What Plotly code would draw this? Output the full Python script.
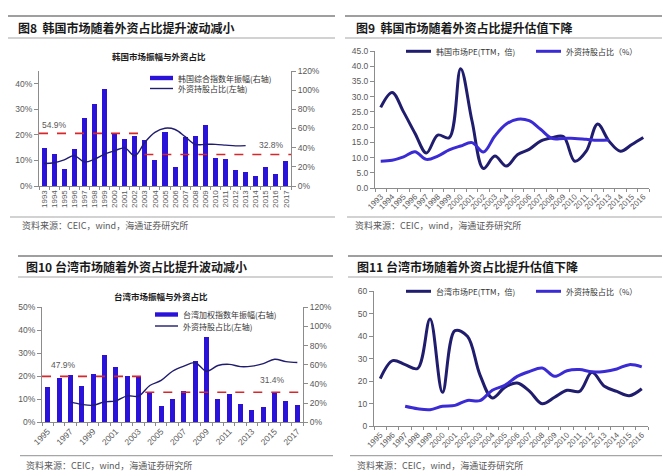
import plotly.graph_objects as go

# ---------------- data ----------------
kr_years = list(range(1993, 2018))
kr_amp = [40.0, 33.3, 18.0, 38.4, 71.2, 86.0, 100.8, 55.5, 49.3, 52.0, 48.5, 27.5, 56.8,
          19.7, 51.2, 52.0, 64.0, 29.3, 28.5, 16.3, 14.7, 10.4, 19.7, 12.8, 26.4]
kr_hold_years = list(range(1993, 2014))
kr_hold = [8.8, 9.1, 10.2, 11.9, 9.4, 10.5, 12.5, 13.8, 14.9, 11.8, 17.1, 21.0, 22.6,
           22.1, 19.3, 16.3, 16.3, 16.3, 16.0, 15.7, 15.8]
kr_pe_years = list(range(1993, 2017))
kr_pe = [26.5, 31.4, 25.0, 18.0, 11.5, 17.4, 16.5, 39.2, 22.0, 6.4, 10.5, 7.2, 11.0,
         12.7, 15.4, 16.5, 16.9, 8.8, 12.1, 21.0, 15.4, 12.1, 14.3, 16.6]
kr_avg_periods = [(1992.5, 2002.65), (2002.95, 2017.5)]
kr_avg_values = [54.9, 32.8]
kr_avg_labels = ["54.9%", "32.8%"]

tw_years = list(range(1995, 2018))
tw_amp = [36.7, 45.8, 49.4, 37.7, 50.6, 69.8, 57.6, 48.0, 47.3, 31.7, 16.3, 23.8,
          32.4, 63.6, 88.8, 24.2, 28.8, 18.7, 13.0, 15.6, 30.2, 21.4, 17.3]
tw_hold_years = list(range(1997, 2018))
tw_hold = [8.9, 7.8, 7.4, 8.9, 9.3, 11.5, 11.4, 16.0, 18.2, 22.2, 24.4, 25.9, 22.2,
           24.7, 25.2, 24.2, 24.4, 25.5, 27.4, 26.4, 26.0]
tw_pe_years = list(range(1995, 2017))
tw_pe = [21.2, 29.2, 27.4, 25.7, 47.7, 15.1, 42.5, 40.0, 23.0, 12.6, 17.3, 19.2,
         15.5, 10.0, 12.9, 16.0, 15.5, 24.0, 17.8, 15.5, 13.6, 16.7]
tw_avg_periods = [(1994.5, 2003.6), (2003.6, 2017.5)]
tw_avg_values = [47.9, 31.4]
tw_avg_labels = ["47.9%", "31.4%"]

titles = ["图8  韩国市场随着外资占比提升波动减小", "图9  韩国市场随着外资占比提升估值下降",
          "图10 台湾市场随着外资占比提升波动减小", "图11 台湾市场随着外资占比提升估值下降"]
subtitles = ["韩国市场振幅与外资占比", "台湾市场振幅与外资占比"]
source = "资料来源：CEIC，wind，海通证券研究所"

# ---------------- style ----------------
W, H = 670, 475
def fx(p): return p / W
def fy(p): return 1 - p / H

BAR = "#2B12D9"
NAVY = "#201C6E"
BLUE = "#3A2BD4"
RED = "#D8262B"
AX = "#8C8C8C"
TXT = "#595959"
FONT = "Liberation Sans, Arial, sans-serif"
CJK = "Noto Sans CJK SC, sans-serif"

fig = go.Figure()

# Panel 8
fig.add_trace(go.Bar(x=kr_years, y=kr_amp, marker_color=BAR, marker_line_width=0,
                     width=0.5, xaxis="x", yaxis="y"))
fig.add_trace(go.Scatter(x=kr_hold_years, y=kr_hold, mode="lines",
                         line=dict(color=NAVY, width=1.4, shape="spline"), xaxis="x", yaxis="y2"))
# Panel 9
fig.add_trace(go.Scatter(x=kr_pe_years, y=kr_pe, mode="lines",
                         line=dict(color=NAVY, width=3, shape="spline"), xaxis="x2", yaxis="y3"))
fig.add_trace(go.Scatter(x=kr_hold_years, y=kr_hold, mode="lines",
                         line=dict(color=BLUE, width=3, shape="spline"), xaxis="x2", yaxis="y3"))
# Panel 10
fig.add_trace(go.Bar(x=tw_years, y=tw_amp, marker_color=BAR, marker_line_width=0,
                     width=0.44, xaxis="x3", yaxis="y4"))
fig.add_trace(go.Scatter(x=tw_hold_years, y=tw_hold, mode="lines",
                         line=dict(color=NAVY, width=1.4, shape="spline"), xaxis="x3", yaxis="y5"))
# Panel 11
fig.add_trace(go.Scatter(x=tw_pe_years, y=tw_pe, mode="lines",
                         line=dict(color=NAVY, width=3, shape="spline"), xaxis="x4", yaxis="y6"))
tw_hold11 = [(yr, v) for yr, v in zip(tw_hold_years, tw_hold) if yr <= 2016]
fig.add_trace(go.Scatter(x=[a for a, _ in tw_hold11], y=[b for _, b in tw_hold11], mode="lines",
                         line=dict(color=BLUE, width=3, shape="spline"), xaxis="x4", yaxis="y6"))

tick_font = dict(family=FONT, size=8.5, color=TXT)
common_ax = dict(showgrid=False, zeroline=False, showline=True, linecolor=AX, linewidth=1,
                 tickfont=tick_font, automargin=False, tickcolor=AX, fixedrange=True)

def xax(dom, rng, anchor, vals, angle):
    d = dict(common_ax)
    d.update(domain=[fx(dom[0]), fx(dom[1])], range=rng, anchor=anchor,
             tickmode="array", tickvals=vals, ticktext=[str(v) for v in vals],
             tickangle=angle, ticks="",
             minor=dict(ticks="outside", tick0=rng[0], dtick=1, ticklen=3, tickcolor=AX))
    d["tickfont"] = dict(family=FONT, size=8, color=TXT)
    return d

def yax(dom, rng, dtick, side, anchor, suffix="", fmt=None, overlay=None):
    d = dict(common_ax)
    d.update(range=rng, dtick=dtick, tick0=0, side=side, anchor=anchor,
             ticks="outside", ticklen=4, ticksuffix=suffix)
    if dom is not None:
        d["domain"] = [fy(dom[0]), fy(dom[1])]
    if fmt:
        d["tickformat"] = fmt
    if overlay:
        d["overlaying"] = overlay
    return d

fig.update_layout(
    xaxis=xax((31, 283), [1992.5, 2017.5], "y", kr_years, -90),
    yaxis=yax((178, 63), [0, 120], 20, "right", "x", "%"),
    yaxis2=yax(None, [0, 45], 10, "left", "x", "%", overlay="y"),
    xaxis2=xax((367, 641), [1992.5, 2016.5], "y3", kr_pe_years, -45),
    yaxis3=yax((180, 43), [0, 45], 5, "left", "x2", fmt=".1f"),
    xaxis3=xax((34, 295), [1994.5, 2017.5], "y4", tw_years[::2], -45),
    yaxis4=yax((414.3, 299.3), [0, 120], 20, "right", "x3", "%"),
    yaxis5=yax(None, [0, 50], 10, "left", "x3", "%", overlay="y4"),
    xaxis4=xax((366, 640), [1994.5, 2016.5], "y6", tw_pe_years, -45),
    yaxis6=yax((418.3, 283.3), [0, 60], 10, "left", "x4"),
)
fig.layout.xaxis3.tickfont.size = 8.5

shapes = []
annotations = []

def rule(x0, x1, y, color="#9A9A9A", w=1.5):
    shapes.append(dict(type="line", xref="paper", yref="paper", x0=fx(x0), x1=fx(x1),
                       y0=fy(y), y1=fy(y), line=dict(color=color, width=w)))

def text(x, y, s, size=9, color="#333333", anchor="left", family=CJK, bold=False):
    annotations.append(dict(xref="paper", yref="paper", x=fx(x), y=fy(y), text=(f"<b>{s}</b>" if bold else s),
                            showarrow=False, xanchor=anchor, yanchor="middle",
                            font=dict(family=family, size=size, color=color)))

# frames: rules, titles, sources
panels = [(0, 327, 8, 30, 209, 8, 218, 12), (337, 662, 8, 30, 209, 346, 218, 345),
          (10, 325, 248, 269, 447.7, 16, 457.3, 16), (340, 660, 248, 269, 447.7, 347, 457.3, 347)]
for i, (x0, x1, yt, ys, yb, tx, sy, sx) in enumerate(panels):
    rule(x0, x1, yt, "#7F7F7F", 1.5)
    rule(x0, x1, ys, "#A6A6A6", 1.2)
    rule(x0 + 2, x1, yb, "#A6A6A6", 1.2)
    text(tx, (yt + ys) / 2, titles[i], size=12, color="#1A1A1A", bold=True)
    text(sx, sy, source, size=9, color="#595959")

# subtitles
text(151, 48, subtitles[0], size=8.5, color="#1A1A1A", anchor="center", bold=True)
text(153, 288, subtitles[1], size=8.5, color="#1A1A1A", anchor="center", bold=True)

# manual legends for bar/line panels
def leg_bar(x0, x1, y, label):
    shapes.append(dict(type="rect", xref="paper", yref="paper", x0=fx(x0), x1=fx(x1),
                       y0=fy(y + 2.2), y1=fy(y - 2.2), line=dict(width=0), fillcolor=BAR))
    text(x1 + 3, y, label, size=8, color="#333333")

def leg_line(x0, x1, y, label, color, w):
    shapes.append(dict(type="line", xref="paper", yref="paper", x0=fx(x0), x1=fx(x1),
                       y0=fy(y), y1=fy(y), line=dict(color=color, width=w)))
    text(x1 + 3, y, label, size=8, color="#333333")

leg_bar(142, 165, 70, "韩国综合指数年振幅(右轴)")
leg_line(142, 165, 80.5, "外资持股占比(左轴)", NAVY, 1.4)
leg_bar(147, 170, 306.5, "台湾加权指数年振幅(右轴)")
leg_line(147, 170, 318, "外资持股占比(左轴)", NAVY, 1.4)

leg_line(398, 423, 43.3, "韩国市场PE(TTM，倍)", NAVY, 3)
leg_line(528, 553, 43.3, "外资持股占比（%）", BLUE, 3)
leg_line(398, 423, 283.3, "台湾市场PE(TTM，倍)", NAVY, 3)
leg_line(528, 553, 283.3, "外资持股占比（%）", BLUE, 3)

# average dashed lines (data coordinates)
for (a, b), v in zip(kr_avg_periods, kr_avg_values):
    shapes.append(dict(type="line", xref="x", yref="y", x0=a, x1=b, y0=v, y1=v,
                       line=dict(color=RED, width=1.6, dash="dash")))
for (a, b), v in zip(tw_avg_periods, tw_avg_values):
    shapes.append(dict(type="line", xref="x3", yref="y4", x0=a, x1=b, y0=v, y1=v,
                       line=dict(color=RED, width=1.6, dash="dash")))

annotations.append(dict(xref="x", yref="y", x=1994.0, y=kr_avg_values[0], text=kr_avg_labels[0],
                        showarrow=False, yanchor="bottom", yshift=1,
                        font=dict(family=FONT, size=8.5, color=TXT)))
annotations.append(dict(xref="x", yref="y", x=2015.6, y=kr_avg_values[1], text=kr_avg_labels[1],
                        showarrow=False, yanchor="bottom", yshift=3,
                        font=dict(family=FONT, size=8.5, color=TXT)))
annotations.append(dict(xref="x3", yref="y4", x=1996.4, y=tw_avg_values[0], text=tw_avg_labels[0],
                        showarrow=False, yanchor="bottom", yshift=4,
                        font=dict(family=FONT, size=8.5, color=TXT)))
annotations.append(dict(xref="x3", yref="y4", x=2014.8, y=tw_avg_values[1], text=tw_avg_labels[1],
                        showarrow=False, yanchor="bottom", yshift=5,
                        font=dict(family=FONT, size=8.5, color=TXT)))

fig.update_layout(
    width=W, height=H, margin=dict(l=0, r=0, t=0, b=0),
    paper_bgcolor="white", plot_bgcolor="white",
    showlegend=False, shapes=shapes, annotations=annotations,
    font=dict(family=FONT, color=TXT), bargap=0,
)

fig.write_html("out.html")
